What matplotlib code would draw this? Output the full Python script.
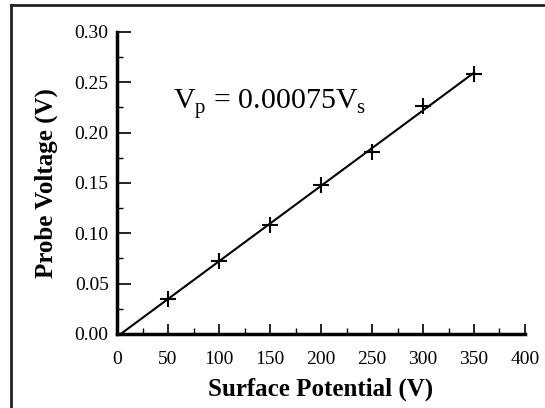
import numpy as np
import matplotlib
matplotlib.use("Agg")
import matplotlib.pyplot as plt
from matplotlib.lines import Line2D
from matplotlib.ticker import MultipleLocator, FormatStrFormatter

# measured points
surface_potential = [50, 100, 150, 200, 250, 300, 350]
probe_voltage = [0.0351, 0.0728, 0.1083, 0.1483, 0.1808, 0.2268, 0.2579]

plt.rcParams['font.family'] = ['Liberation Serif', 'DejaVu Serif']
plt.rcParams['mathtext.fontset'] = 'custom'
plt.rcParams['mathtext.rm'] = 'Liberation Serif'

fig = plt.figure(figsize=(5.45, 4.08), dpi=100)
ax = fig.add_axes([0.2147, 0.1814, 0.7486, 0.7402])

# linear fit line
slope, intercept = np.polyfit(surface_potential, probe_voltage, 1)
fit_x = np.array([0, 350])
ax.plot(fit_x, slope * fit_x + intercept, color='black', lw=1.5)

ax.plot(surface_potential, probe_voltage, linestyle='none', marker='+',
        markersize=11, markeredgewidth=1.5, color='black')

ax.text(55, 0.228, r"V$_\mathregular{p}$ = 0.00075V$_\mathregular{s}$",
        fontsize=21.5, va='center', ha='left')

ax.set_xlim(0, 400)
ax.set_ylim(0, 0.30)
ax.xaxis.set_major_locator(MultipleLocator(50))
ax.xaxis.set_minor_locator(MultipleLocator(25))
ax.yaxis.set_major_locator(MultipleLocator(0.05))
ax.yaxis.set_minor_locator(MultipleLocator(0.025))
ax.yaxis.set_major_formatter(FormatStrFormatter('%.2f'))

for side in ['top', 'right']:
    ax.spines[side].set_visible(False)
for side in ['left', 'bottom']:
    ax.spines[side].set_linewidth(2.5)

ax.tick_params(which='major', direction='in', width=1.2, labelsize=14)
ax.tick_params(axis='y', which='major', length=10, pad=6)
ax.tick_params(axis='x', which='major', length=7, pad=12)
ax.tick_params(which='minor', direction='in', length=4, width=1.0)

ax.set_xlabel("Surface Potential (V)", fontsize=18, fontweight='bold', labelpad=7)
ax.set_ylabel("Probe Voltage (V)", fontsize=18, fontweight='bold', labelpad=12)

# outer frame (only top and left edges visible)
fig.add_artist(Line2D([11 / 545, 11 / 545], [0, 1 - 5 / 408], color='#222222', lw=2))
fig.add_artist(Line2D([11 / 545, 1], [1 - 5 / 408, 1 - 5 / 408], color='#222222', lw=2))

fig.savefig("out.png", dpi=100)
